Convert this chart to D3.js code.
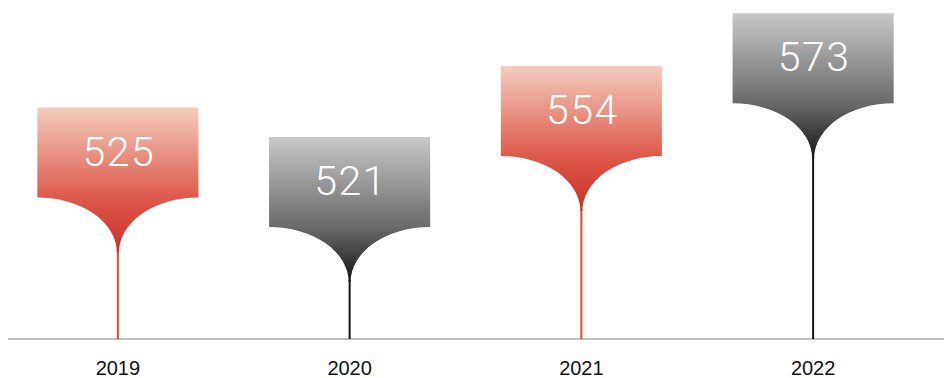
<!DOCTYPE html>
<html>
<head>
<meta charset="utf-8">
<script src="https://cdn.jsdelivr.net/npm/d3@7"></script>
<style>
  html, body { margin: 0; padding: 0; background: #fff; }
  svg { display: block; }
</style>
</head>
<body>
<svg id="chart" width="944" height="378"></svg>
<script>
// ---- data ----
const years = ["2019", "2020", "2021", "2022"];
const values = [525, 521, 554, 573];
const themes = ["red", "gray", "red", "gray"];

// ---- layout ----
const W = 944, H = 378;
const baseY = 339;
const svg = d3.select("#chart");

const x = d3.scalePoint().domain(years).range([2, 929]).padding(0.5);
const barW = x.step() * 0.695;

// piecewise vertical scale: value -> top of the marker
const y = d3.scaleLinear()
  .domain([521, 525, 554, 573])
  .range([baseY - 202, baseY - 231.5, baseY - 273, baseY - 325.8]);

const rectH = 90;
const funnelH = 55;
const stemHalf = 1;

const palettes = {
  red:  { stops: [["0%", "#f4cdbf"], ["62%", "#dc5a4a"], ["100%", "#cf2c26"]], stem: "#e0463a" },
  gray: { stops: [["0%", "#c8c8c8"], ["62%", "#6a6a6a"], ["100%", "#151515"]], stem: "#111111" }
};

const defs = svg.append("defs");
Object.entries(palettes).forEach(([k, p]) => {
  const g = defs.append("linearGradient")
    .attr("id", "grad-" + k)
    .attr("x1", 0).attr("y1", 0).attr("x2", 0).attr("y2", 1);
  p.stops.forEach(s => g.append("stop").attr("offset", s[0]).attr("stop-color", s[1]));
});

// baseline
svg.append("line")
  .attr("x1", 8).attr("x2", W)
  .attr("y1", baseY).attr("y2", baseY)
  .attr("stroke", "#aaaaaa").attr("stroke-width", 1.5);

const data = years.map((yr, i) => ({ year: yr, value: values[i], theme: themes[i] }));

const g = svg.selectAll("g.marker").data(data).join("g").attr("class", "marker");

// stem
g.append("line")
  .attr("x1", d => x(d.year)).attr("x2", d => x(d.year))
  .attr("y1", d => y(d.value) + rectH + funnelH - 2)
  .attr("y2", baseY)
  .attr("stroke", d => palettes[d.theme].stem)
  .attr("stroke-width", 2);

// marker shape
g.append("path")
  .attr("fill", d => `url(#grad-${d.theme})`)
  .attr("d", d => {
    const cx = x(d.year);
    const l = cx - barW / 2, r = cx + barW / 2;
    const t = y(d.value), rb = t + rectH, tip = rb + funnelH;
    const rx = barW / 2 - stemHalf, ry = funnelH;
    return `M${l},${t}H${r}V${rb}` +
      `A${rx},${ry} 0 0 0 ${cx + stemHalf},${tip}` +
      `H${cx - stemHalf}` +
      `A${rx},${ry} 0 0 0 ${l},${rb}Z`;
  });

// value labels
g.append("text")
  .attr("x", d => x(d.year) + 1)
  .attr("y", d => y(d.value) + 58)
  .attr("text-anchor", "middle")
  .attr("fill", "#ffffff")
  .attr("font-family", "Roboto, 'Liberation Sans', sans-serif")
  .attr("font-weight", 300)
  .attr("font-size", 41)
  .attr("letter-spacing", 1.5)
  .text(d => d.value);

// year labels
svg.selectAll("text.year").data(years).join("text")
  .attr("class", "year")
  .attr("x", d => x(d))
  .attr("y", 375)
  .attr("text-anchor", "middle")
  .attr("fill", "#111")
  .attr("font-family", "'Liberation Sans', Arial, sans-serif")
  .attr("font-size", 20)
  .text(d => d);
</script>
</body>
</html>
